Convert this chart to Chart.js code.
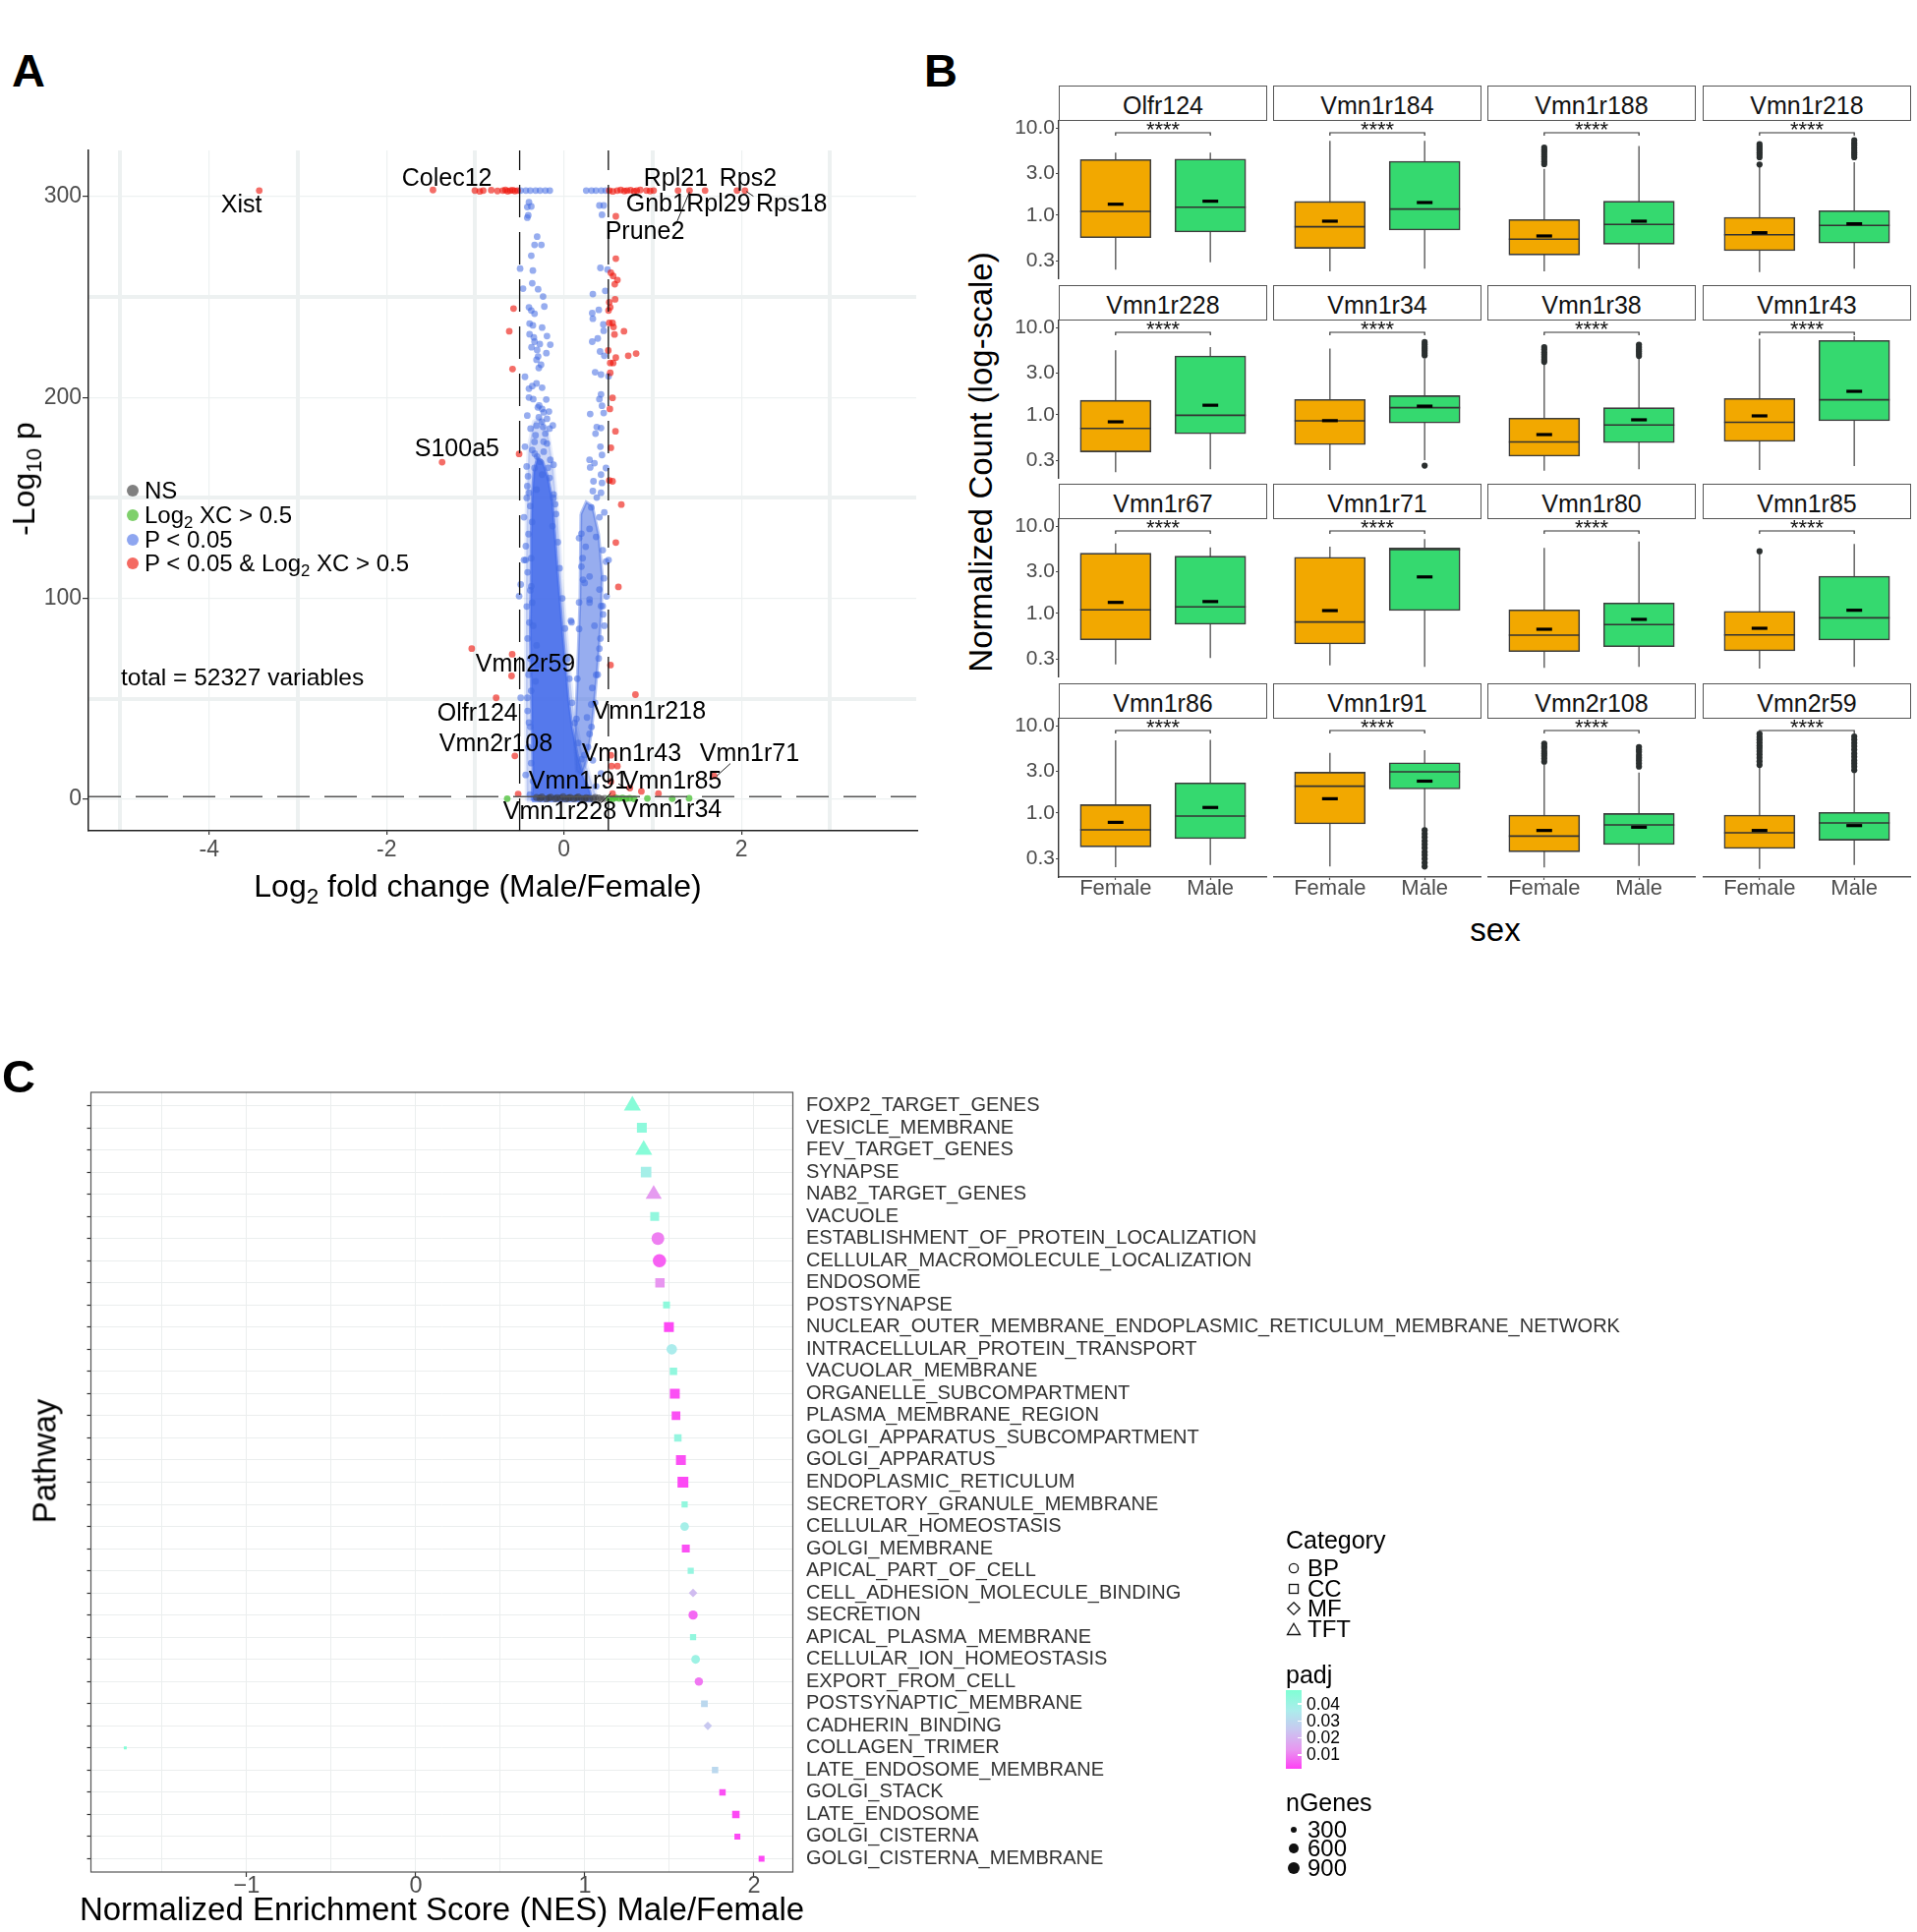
<!DOCTYPE html>
<html>
<head>
<meta charset="utf-8">
<title>Sex differences in vomeronasal gene expression</title>
<script src="https://cdn.jsdelivr.net/npm/chart.js@4.4.1/dist/chart.umd.min.js"></script>
<style>
  body { margin: 0; background: #fff; }
  #page { position: relative; width: 1950px; height: 1965px; overflow: hidden; background: #fff;
          font-family: "Liberation Sans", Arial, Helvetica, sans-serif; }
  #page canvas { position: absolute; }
  .txt { position: absolute; white-space: nowrap; line-height: 1; color: #000; }
  .strip { position: absolute; box-sizing: border-box; border: 1.5px solid #555; background: #fff;
           font-size: 25px; text-align: center; line-height: 39px; color: #111; }
  .sub { font-size: 70%; position: relative; top: 0.3em; }
  .sw { position: absolute; }
</style>
</head>
<body>
<div id="page">
  <canvas id="volcano" width="922" height="742" style="left:20px;top:143px"></canvas>
  <canvas id="nes" width="1720" height="864" style="left:0px;top:1101px"></canvas>
</div>
<script>
// ---------- A: volcano plot ----------
// NS (grey), Log2 FC only (green), P only (blue), P & Log2 FC (red)
const nsX = [-0.31, -0.27, -0.25, -0.2, -0.17, -0.15, -0.1, -0.08, -0.04, -0.01, 0.02, 0.05, 0.07, 0.11, 0.14, 0.16, 0.2, 0.23, 0.25, 0.29, 0.33, 0.35, 0.39, 0.42, 0.46];
const nsY = [0.9, 0.4, 1.1, 0.2, 0.7, 1.0, 0.3, 0.8, 0.5, 1.2, 0.1, 0.6, 0.9, 0.3, 0.7, 1.1, 0.4, 0.2, 0.8, 0.5, 0.3, 0.9, 0.6, 0.2, 0.4];

const fcX = [-0.64, 0.51, 0.55, 0.58, 0.62, 0.66, 0.7, 0.74, 0.79, 0.94, 1.22, 1.41];
const fcY = [0.3, 0.5, 0.2, 0.8, 0.4, 0.6, 0.3, 0.5, 0.2, 0.4, 0.3, 0.5];

const pX = [-0.49, -0.43, -0.38, -0.32, -0.27, -0.21, -0.16, 0.25, 0.31, 0.36, 0.42, 0.47,
  -0.395, -0.369, -0.414, -0.403, -0.414, -0.303, -0.332, -0.255, -0.369, -0.495, -0.351, -0.358, -0.462, -0.292,
  -0.236, -0.222, -0.395, -0.369, -0.332, -0.388, -0.351, -0.247, -0.388, -0.34, -0.192, -0.332, -0.273, -0.155,
  -0.366, -0.303, -0.199, -0.292, -0.31, -0.259, -0.284, -0.44, -0.31, -0.358, -0.395, -0.247, -0.395, -0.347,
  -0.295, -0.247, -0.229, -0.414, -0.284, -0.192, -0.126, -0.236, -0.377, -0.163, -0.321, -0.211, -0.332, -0.192,
  -0.44, -0.358, -0.229, -0.303, -0.155, -0.421, -0.332, -0.118, -0.247, -0.406, -0.163, -0.414, -0.31, -0.118,
  -0.395, -0.451, -0.1, -0.432, -0.488, -0.506,
  0.399, 0.447, 0.428, 0.41, 0.491, 0.325, 0.465, 0.318, 0.392, 0.325, 0.443, 0.447, 0.38, 0.318, 0.406, 0.454,
  0.351, 0.417, 0.502, 0.417, 0.399, 0.428, 0.295, 0.447, 0.369, 0.417, 0.355, 0.41, 0.428, 0.288, 0.343, 0.295,
  0.473, 0.417, 0.332, 0.428, 0.325, 0.417, 0.369, 0.307, 0.454, 0.399, 0.288, 0.196, 0.362, 0.244, 0.436, 0.196,
  0.473, 0.288, 0.233, 0.399, 0.288, 0.436,
  0.085, 0.17, 0.214, 0.288, 0.343, 0.399, 0.391, 0.362, 0.318, 0.307, 0.259, 0.288, 0.325, 0.417, 0.362, 0.502,
  0.48, 0.454, 0.417, -0.451, -0.369, -0.358, -0.347, -0.31, -0.303, -0.321, -0.488, -0.414, -0.395, -0.432, -0.384, 0.078,
  -0.42, -0.38, -0.36, -0.4, -0.43, -0.37, -0.41, -0.38, -0.42, -0.39, -0.41, -0.38, -0.4, -0.37, -0.41, -0.38, -0.4, -0.37, -0.35,
  -0.12, -0.09, -0.13, -0.07, -0.05, -0.02, 0.01, 0.04, 0.06, 0.09, 0.12, 0.16, 0.2,
  -0.28, -0.2, -0.25, -0.31, -0.17, -0.23, -0.33, -0.27, -0.18,
  0.17, 0.21, 0.45, 0.44, 0.41, 0.38, 0.35, 0.31, 0.27, 0.23, 0.14, 0.15, 0.17];
const pY = [303, 303, 303, 303, 303, 303, 303, 303, 303, 303, 303, 303,
  297.2, 295.1, 294.8, 290.7, 289.5, 280.1, 276.0, 276.0, 270.6, 264.2, 263.2, 256.9, 254.2, 253.9,
  250.3, 245.3, 244.9, 243.3, 241.7, 236.8, 235.9, 234.8, 231.5, 229.9, 230.6, 227.8, 226.6, 226.3,
  225.0, 223.7, 222.1, 220.4, 218.8, 216.3, 214.7, 210.3, 207.0, 205.7, 204.4, 204.9, 200.0, 199.2,
  195.1, 194.3, 192.6, 191.0, 190.2, 189.4, 186.1, 185.3, 184.5, 184.5, 181.2, 182.0, 177.9, 177.1,
  175.5, 173.9, 173.0, 170.6, 169.0, 165.7, 164.9, 166.5, 161.6, 160.8, 160.0, 155.9, 154.2, 151.8,
  152.6, 140.4, 146.9, 119.1, 106.9, 101.1,
  295.6, 295.6, 291.0, 264.5, 263.7, 251.5, 253.1, 242.0, 243.6, 239.2, 236.4, 233.2, 229.4, 227.8, 222.9, 220.8,
  212.6, 211.4, 210.6, 201.6, 199.2, 195.9, 191.8, 192.3, 185.3, 184.8, 182.0, 175.5, 171.4, 169.0, 167.3, 165.2,
  164.9, 161.6, 158.3, 157.5, 153.4, 152.6, 150.2, 145.3, 142.8, 140.4, 134.6, 132.2, 130.6, 125.7, 124.0, 115.8,
  118.3, 110.9, 107.7, 104.4, 97.9, 96.2,
  88.1, 84.8, 109.3, 99.5, 86.4, 75.0, 70.1, 61.9, 55.4, 47.2, 40.7, 32.5, 19.4, 12.9, 6.4, 119.1,
  101.0, 86.4, 96.2, 119.1, 106.0, 97.9, 86.4, 76.6, 66.8, 58.7, 50.5, 50.5, 38.2, 12.1, 2.3, 88.9,
  150, 146, 138, 132, 126, 120, 113, 104, 96, 88, 80, 70, 62, 54, 44, 36, 26, 18, 9,
  150, 142, 136, 128, 115, 100, 85, 70, 60, 48, 38, 28, 20,
  196, 199, 188, 186, 193, 178, 172, 168, 165,
  130, 120, 110, 92, 80, 62, 48, 36, 26, 22, 40, 60, 98];

const bothX = [-3.435, -1.477, -1.005, -0.95, -0.91, -0.82, -0.75, -0.69, -0.66, -0.635, -0.606, -0.58, -0.554, -0.524,
  0.51, 0.55, 0.6, 0.64, 0.68, 0.71, 0.75, 0.79, 0.82, 0.86, 0.93, 0.97, 1.01, 1.285, 1.415, 1.59, 1.95, 2.04,
  0.584, 0.584, 0.528, 0.554, 0.602, 0.572, 0.576, 0.51, 0.521, 0.502, 0.51, 0.547, 0.558, 0.676, 0.569, 0.499,
  0.724, 0.813, 0.584, 0.554, 0.521, 0.521, 0.547, 0.517, 0.58, 0.528, 0.51, 0.547, 0.646, 0.584, 0.613, 0.524,
  0.805, 0.528, 0.602, 0.536, 0.742, 0.872, 1.064, 0.547, 0.528, 1.69,
  -0.569, -0.617, -0.58, -0.506, -1.374, -1.04, -0.584, -0.591, -0.765, -0.554, -0.517];
const bothY = [303, 303.3, 303, 302.6, 303, 303.2, 302.8, 303, 303.3, 302.7, 303, 303.2, 302.8, 303,
  303, 302.6, 303, 303.3, 302.8, 303, 303.2, 302.7, 303, 303.3, 303, 302.8, 303, 303, 303, 303, 303, 303,
  290.2, 269.1, 262.1, 260.5, 258.5, 256.4, 248.9, 247.4, 244.9, 243.3, 237.1, 237.1, 235.1, 233.0, 231.4, 223.4,
  220.8, 221.9, 219.9, 217.2, 217.2, 212.3, 199.8, 194.3, 183.2, 175.0, 158.7, 158.3, 146.7, 127.8, 105.7, 66.8,
  52.1, 21.9, 16.5, 16.5, 5.6, 3.9, 2.8, 2.8, 8.8, 11.6,
  244.3, 233.0, 214.2, 171.9, 167.8, 75.0, 72.2, 61.4, 50.5, 21.6, 2.6];

// outlines of the over-plotted blue region: saturated core, its fringe, and the right-hand arm
const coreX = [-0.36, -0.35, -0.36, -0.37, -0.38, -0.37, -0.37, -0.36, -0.34, -0.30, -0.24, -0.18, -0.13, -0.10, -0.07,
  -0.04, -0.01, 0.02, 0.05, 0.09, 0.15, 0.22, 0.29, 0.31, 0.31, -0.36];
const coreY = [-0.8, 15, 35, 60, 85, 110, 130, 150, 163, 170, 168, 160, 148, 130, 112,
  96, 80, 65, 50, 36, 22, 11, 4, 0, -0.8, -0.8];
const haloX = [-0.42, -0.43, -0.43, -0.42, -0.40, -0.34, -0.26, -0.18, -0.12, -0.07, -0.03, 0.02, 0.07, 0.12, 0.2, 0.3, 0.36, 0.36, -0.42];
const haloY = [-0.8, 40, 100, 150, 175, 188, 190, 182, 165, 140, 110, 85, 60, 40, 24, 10, 2, -0.8, -0.8];
const armX = [0.19, 0.25, 0.32, 0.39, 0.43, 0.42, 0.39, 0.35, 0.31, 0.26, 0.2, 0.14, 0.12, 0.15, 0.18, 0.19];
const armY = [142, 148, 146, 132, 112, 92, 72, 52, 34, 20, 12, 14, 28, 60, 100, 142];

const fcCutoff = 0.5;
const pCutoff = 1.3;

const geneLabels = ['Xist', 'Colec12', 'Rpl21', 'Rps2', 'Gnb1', 'Rpl29', 'Rps18', 'Prune2', 'S100a5', 'Vmn2r59',
  'Olfr124', 'Vmn2r108', 'Vmn1r218', 'Vmn1r43', 'Vmn1r71', 'Vmn1r91', 'Vmn1r85', 'Vmn1r228', 'Vmn1r34'];
const geneLabelX = [-3.867, -1.828, 0.898, 1.751, 0.698, 1.38, 2.164, 0.465, -1.684, -0.997,
  -1.429, -1.407, 0.321, 0.199, 1.529, -0.399, 0.654, -0.687, 0.654];
const geneLabelY = [292.2, 305.4, 305.4, 305.4, 292.6, 292.6, 292.6, 278.9, 170.6, 63.7,
  39.2, 24.0, 40.2, 19.1, 19.1, 5.4, 5.4, -9.8, -8.8];
const connectX = [1.26, 1.415, 1.415, 2.135, 2.054, 2.054, 1.876, 1.721, 1.721, 0.613, 0.731, 0.731, 0.417, 0.528];
const connectY = [286.1, 302.4, null, 300.2, 302.6, null, 17.8, 11.6, null, 7.7, 4.7, null, -1.8, 3.1];

// ---------- B: box plots ----------
const geneNames = ['Olfr124', 'Vmn1r184', 'Vmn1r188', 'Vmn1r218', 'Vmn1r228', 'Vmn1r34', 'Vmn1r38', 'Vmn1r43',
  'Vmn1r67', 'Vmn1r71', 'Vmn1r80', 'Vmn1r85', 'Vmn1r86', 'Vmn1r91', 'Vmn2r108', 'Vmn2r59'];
const sexes = ['Female', 'Male'];
// [lower whisker, Q1, median, Q3, upper whisker, mean]
const femaleStats = [
  [0.239, 0.556, 1.11, 4.34, 5.2, 1.34], [0.229, 0.419, 0.74, 1.44, 7.1, 0.857],
  [0.229, 0.352, 0.533, 0.894, 3.4, 0.581], [0.225, 0.394, 0.60, 0.95, 3.62, 0.633],
  [0.221, 0.378, 0.70, 1.47, 5.47, 0.834], [0.235, 0.457, 0.857, 1.50, 5.72, 0.86],
  [0.231, 0.337, 0.49, 0.918, 3.88, 0.596], [0.235, 0.497, 0.822, 1.54, 7.41, 0.975],
  [0.262, 0.50, 1.10, 4.89, 6.3, 1.34], [0.256, 0.449, 0.80, 4.4, 5.81, 1.08],
  [0.239, 0.367, 0.566, 1.10, 5.61, 0.661], [0.235, 0.374, 0.57, 1.06, 4.81, 0.678],
  [0.241, 0.411, 0.644, 1.25, 6.78, 0.784], [0.245, 0.752, 2.03, 2.93, 4.89, 1.46],
  [0.239, 0.361, 0.546, 0.95, 3.6, 0.633], [0.231, 0.394, 0.596, 0.95, 3.4, 0.633]];
const maleStats = [
  [0.291, 0.644, 1.24, 4.4, 5.2, 1.45], [0.245, 0.678, 1.18, 4.15, 7.1, 1.40],
  [0.245, 0.468, 0.786, 1.45, 6.2, 0.857], [0.245, 0.481, 0.766, 1.13, 4.04, 0.80],
  [0.239, 0.607, 0.99, 4.72, 5.96, 1.29], [0.304, 0.807, 1.21, 1.66, 4.42, 1.26],
  [0.239, 0.481, 0.766, 1.21, 4.6, 0.879], [0.26, 0.857, 1.49, 7.1, 7.9, 1.86],
  [0.31, 0.752, 1.19, 4.52, 5.7, 1.37], [0.245, 1.08, 5.37, 5.61, 7.08, 2.62],
  [0.245, 0.418, 0.746, 1.32, 6.66, 0.857], [0.245, 0.498, 0.894, 2.67, 6.23, 1.09],
  [0.256, 0.51, 0.925, 2.21, 6.89, 1.16], [0.671, 1.89, 2.96, 3.77, 5.24, 2.32],
  [0.249, 0.437, 0.733, 0.99, 2.91, 0.69], [0.256, 0.489, 0.772, 1.02, 2.9, 0.72]];
const femaleOutliers = [[], [], [3.84, 4.1, 4.4, 4.7, 5.0, 5.3, 5.6, 5.96], [3.81, 4.6, 4.9, 5.2, 5.5, 5.8, 6.1, 6.5],
  [], [], [4.04, 4.3, 4.6, 4.9, 5.2, 5.6, 5.96], [], [], [], [], [5.15], [], [],
  [3.87, 4.2, 4.5, 4.8, 5.1, 5.5, 5.8, 6.22], [3.55, 3.9, 4.3, 4.7, 5.1, 5.5, 5.9, 6.4, 6.9, 7.4, 8.05]];
const maleOutliers = [[], [], [], [4.6, 4.9, 5.2, 5.5, 5.9, 6.3, 6.7, 7.2], [], [4.8, 5.1, 5.4, 5.7, 6.0, 6.4, 6.8, 0.263],
  [4.72, 5.0, 5.3, 5.6, 5.96, 6.34], [], [], [], [], [], [],
  [0.245, 0.27, 0.3, 0.33, 0.36, 0.4, 0.44, 0.48, 0.53, 0.58, 0.64],
  [3.4, 3.7, 4.0, 4.3, 4.6, 5.0, 5.3, 5.7], [3.1, 3.4, 3.7, 4.0, 4.4, 4.8, 5.3, 5.8, 6.3, 6.9, 7.52]];
const logTicks = [0.3, 1, 3, 10];

// ---------- C: enrichment dot plot ----------
const pathwayNames = ['FOXP2_TARGET_GENES', 'VESICLE_MEMBRANE', 'FEV_TARGET_GENES', 'SYNAPSE', 'NAB2_TARGET_GENES',
  'VACUOLE', 'ESTABLISHMENT_OF_PROTEIN_LOCALIZATION', 'CELLULAR_MACROMOLECULE_LOCALIZATION', 'ENDOSOME', 'POSTSYNAPSE',
  'NUCLEAR_OUTER_MEMBRANE_ENDOPLASMIC_RETICULUM_MEMBRANE_NETWORK', 'INTRACELLULAR_PROTEIN_TRANSPORT', 'VACUOLAR_MEMBRANE',
  'ORGANELLE_SUBCOMPARTMENT', 'PLASMA_MEMBRANE_REGION', 'GOLGI_APPARATUS_SUBCOMPARTMENT', 'GOLGI_APPARATUS',
  'ENDOPLASMIC_RETICULUM', 'SECRETORY_GRANULE_MEMBRANE', 'CELLULAR_HOMEOSTASIS', 'GOLGI_MEMBRANE', 'APICAL_PART_OF_CELL',
  'CELL_ADHESION_MOLECULE_BINDING', 'SECRETION', 'APICAL_PLASMA_MEMBRANE', 'CELLULAR_ION_HOMEOSTASIS', 'EXPORT_FROM_CELL',
  'POSTSYNAPTIC_MEMBRANE', 'CADHERIN_BINDING', 'COLLAGEN_TRIMER', 'LATE_ENDOSOME_MEMBRANE', 'GOLGI_STACK',
  'LATE_ENDOSOME', 'GOLGI_CISTERNA', 'GOLGI_CISTERNA_MEMBRANE'];
const pathwayNES = [1.281, 1.337, 1.348, 1.362, 1.407, 1.413, 1.432, 1.441, 1.444, 1.483, 1.497, 1.514, 1.524, 1.532,
  1.539, 1.55, 1.568, 1.58, 1.59, 1.59, 1.597, 1.626, 1.64, 1.64, 1.64, 1.655, 1.674, 1.707, 1.727, -1.718, 1.77,
  1.814, 1.893, 1.902, 2.045];
const pathwayPadj = [0.046, 0.044, 0.046, 0.038, 0.014, 0.043, 0.010, 0.006, 0.013, 0.044, 0.003, 0.036, 0.043, 0.004,
  0.004, 0.042, 0.004, 0.003, 0.043, 0.038, 0.004, 0.042, 0.022, 0.007, 0.043, 0.040, 0.009, 0.030, 0.025, 0.047,
  0.030, 0.004, 0.003, 0.003, 0.003];
const pathwayGenes = [1110, 790, 1110, 900, 1000, 640, 1056, 1140, 712, 387, 790, 715, 445, 790, 610, 445, 790, 955,
  310, 484, 505, 310, 860, 552, 310, 484, 450, 365, 840, 70, 333, 333, 444, 284, 284];
const pathwayCategory = ['TFT', 'CC', 'TFT', 'CC', 'TFT', 'CC', 'BP', 'BP', 'CC', 'CC', 'CC', 'BP', 'CC', 'CC', 'CC',
  'CC', 'CC', 'CC', 'CC', 'BP', 'CC', 'CC', 'MF', 'BP', 'CC', 'BP', 'BP', 'CC', 'MF', 'CC', 'CC', 'CC', 'CC', 'CC', 'CC'];
const categoryNames = ['BP', 'CC', 'MF', 'TFT'];
const padjBreaks = [0.04, 0.03, 0.02, 0.01];
const geneBreaks = [300, 600, 900];

// ---------------------------------------------------------------
const FONT = '"Liberation Sans", Arial, Helvetica, sans-serif';
Chart.defaults.font.family = FONT;
Chart.defaults.responsive = false;
Chart.defaults.animation = false;
Chart.defaults.layout.autoPadding = false;
Chart.defaults.plugins.legend.display = false;
Chart.defaults.plugins.tooltip.enabled = false;

const page = document.getElementById('page');
const pts = (xs, ys) => xs.map((x, i) => ({ x: x, y: ys[i] }));
// fixed axis sizes, and no extra room reserved for the end labels
const fixH = h => s => { s.height = h; s.paddingLeft = 0; s.paddingRight = 0; };
const fixW = w => s => { s.width = w; s.paddingTop = 0; s.paddingBottom = 0; };

function addText(html, x, y, size, opts = {}) {
  const d = document.createElement('div');
  d.className = 'txt';
  d.innerHTML = html;
  d.style.fontSize = size + 'px';
  if (opts.bold) d.style.fontWeight = 'bold';
  if (opts.color) d.style.color = opts.color;
  d.style.left = x + 'px';
  if (opts.rotate) {
    d.style.top = y + 'px';
    d.style.transform = 'translate(-50%,-50%) rotate(-90deg)';
  } else {
    d.style.top = (y - 0.8465 * size) + 'px';   // y is the baseline
    if (opts.center) d.style.transform = 'translateX(-50%)';
  }
  page.appendChild(d);
  return d;
}

// ---------- panel A ----------
const vx = { min: -5.36, max: 3.97 }, vy = { min: -15.7, max: 323 };

const geneTextPlugin = {
  id: 'geneText',
  afterDatasetsDraw(chart) {
    const { ctx, scales: { x, y } } = chart;
    ctx.save();
    ctx.font = '25px ' + FONT;
    ctx.fillStyle = '#000';
    ctx.textBaseline = 'alphabetic';
    geneLabels.forEach((t, i) => ctx.fillText(t, x.getPixelForValue(geneLabelX[i]), y.getPixelForValue(geneLabelY[i])));
    ctx.restore();
  }
};

const blue = 'rgba(65,105,225,';
new Chart(document.getElementById('volcano'), {
  type: 'scatter',
  data: {
    datasets: [
      { type: 'line', data: pts([-fcCutoff, -fcCutoff], [vy.min, vy.max]), borderColor: '#111', borderWidth: 1.3, borderDash: [33, 15], pointRadius: 0, order: 0 },
      { type: 'line', data: pts([fcCutoff, fcCutoff], [vy.min, vy.max]), borderColor: '#111', borderWidth: 1.3, borderDash: [33, 15], pointRadius: 0, order: 0 },
      { type: 'line', data: pts([vx.min, vx.max], [pCutoff, pCutoff]), borderColor: '#555', borderWidth: 1.3, borderDash: [33, 15], pointRadius: 0, order: 0 },
      { type: 'line', data: pts(connectX, connectY), borderColor: '#222', borderWidth: 1, pointRadius: 0, spanGaps: false, order: 0 },
      { data: pts(bothX, bothY), pointRadius: 3.4, pointBackgroundColor: 'rgba(238,20,10,0.62)', pointBorderWidth: 0, order: 1 },
      { data: pts(fcX, fcY), pointRadius: 3.4, pointBackgroundColor: 'rgba(70,190,50,0.75)', pointBorderWidth: 0, order: 2 },
      { data: pts(nsX, nsY), pointRadius: 3.6, pointBackgroundColor: 'rgba(60,60,60,0.55)', pointBorderWidth: 0, order: 3 },
      { data: pts(pX, pY), pointRadius: 3.4, pointBackgroundColor: blue + '0.55)', pointBorderWidth: 0, order: 4 },
      { type: 'line', data: pts(armX, armY), fill: 'shape', backgroundColor: blue + '0.55)', borderColor: blue + '0.4)', borderWidth: 3, pointRadius: 0, order: 5 },
      { type: 'line', data: pts(coreX, coreY), fill: 'shape', backgroundColor: 'rgba(68,108,235,0.88)', borderColor: 'rgba(68,108,235,0.6)', borderWidth: 3, pointRadius: 0, order: 6 },
      { type: 'line', data: pts(haloX, haloY), fill: 'shape', backgroundColor: blue + '0.26)', borderColor: blue + '0.12)', borderWidth: 4, pointRadius: 0, order: 7 }
    ]
  },
  options: {
    layout: { padding: { top: 10, right: 10 } },
    scales: {
      x: {
        type: 'linear', min: vx.min, max: vx.max,
        afterBuildTicks: s => { s.ticks = [-5, -4, -3, -2, -1, 0, 1, 2, 3].map(v => ({ value: v })); },
        afterFit: fixH(40),
        ticks: { callback: v => (v % 2 === 0 ? String(v) : ''), font: { size: 23 }, color: '#4d4d4d', padding: 2, maxRotation: 0, autoSkip: false },
        grid: {
          color: '#edf1f1', lineWidth: c => (Math.abs(c.tick.value % 2) === 1 ? 4 : 1.2),
          tickColor: c => (c.tick.value % 2 === 0 ? '#333' : 'rgba(0,0,0,0)'), tickLength: 4, tickWidth: 1.2
        },
        border: { display: true, color: '#222', width: 1.5 }
      },
      y: {
        type: 'linear', min: vy.min, max: vy.max,
        afterBuildTicks: s => { s.ticks = [0, 50, 100, 150, 200, 250, 300].map(v => ({ value: v })); },
        afterFit: fixW(70),
        ticks: { callback: v => (v % 100 === 0 ? String(v) : ''), font: { size: 23 }, color: '#4d4d4d', padding: 1, autoSkip: false },
        grid: {
          color: '#edf1f1', lineWidth: c => (c.tick.value % 100 === 50 ? 4 : 1.2),
          tickColor: c => (c.tick.value % 100 === 0 ? '#333' : 'rgba(0,0,0,0)'), tickLength: 6, tickWidth: 1.2
        },
        border: { display: true, color: '#222', width: 1.5 }
      }
    }
  },
  plugins: [geneTextPlugin]
});

addText('A', 12, 88, 47, { bold: true });
addText('Log<span class="sub">2</span> fold change (Male/Female)', 486, 912, 32, { center: true });
addText('-Log<span class="sub">10</span> p', 24, 487, 32, { rotate: true });
addText('total = 52327 variables', 123, 698, 24.5);

const volcanoLegend = [
  ['NS', '#808080'],
  ['Log<span class="sub">2</span> XC &gt; 0.5', '#7fd06c'],
  ['P &lt; 0.05', '#8ea6f0'],
  ['P &lt; 0.05 &amp; Log<span class="sub">2</span> XC &gt; 0.5', '#f46a62']
];
[499, 524, 549, 573].forEach((cy, i) => {
  const dot = document.createElement('div');
  dot.className = 'sw';
  Object.assign(dot.style, { left: '129px', top: (cy - 6) + 'px', width: '12px', height: '12px', borderRadius: '50%', background: volcanoLegend[i][1] });
  page.appendChild(dot);
  addText(volcanoLegend[i][0], 147, cy + 8.6, 24);
});

// ---------- panel B ----------
const colLeft = [1077, 1295, 1513, 1732];
const rowTop = [87, 290, 492, 695];
const stripH = 36, cellW = 212, cellH = 161, yAxisW = 60, xAxisH = 30, padTop = 6;
const femaleColor = '#F2A800', maleColor = '#35D96F';

const bracketPlugin = {
  id: 'bracket',
  afterDatasetsDraw(chart) {
    const { ctx, chartArea, scales } = chart;
    const x1 = scales.x.getPixelForValue(1), x2 = scales.x.getPixelForValue(2);
    const y = chartArea.top + 12;
    ctx.save();
    ctx.strokeStyle = '#333';
    ctx.lineWidth = 1.2;
    ctx.beginPath();
    ctx.moveTo(x1, y + 3); ctx.lineTo(x1, y); ctx.lineTo(x2, y); ctx.lineTo(x2, y + 3);
    ctx.stroke();
    ctx.fillStyle = '#111';
    ctx.font = '22px ' + FONT;
    ctx.textAlign = 'center';
    ctx.textBaseline = 'alphabetic';
    ctx.fillText('****', (x1 + x2) / 2, chartArea.top + 16);
    ctx.restore();
  }
};

function makeBoxChart(cv, g, showY, showX) {
  const f = femaleStats[g], m = maleStats[g];
  const outl = femaleOutliers[g].map(v => ({ x: 1, y: v })).concat(maleOutliers[g].map(v => ({ x: 2, y: v })));
  return new Chart(cv, {
    type: 'bar',
    data: {
      datasets: [
        { type: 'line', data: [{ x: 1, y: f[0] }, { x: 1, y: f[4] }, { x: 1.5, y: null }, { x: 2, y: m[0] }, { x: 2, y: m[4] }],
          borderColor: '#5a5a5a', borderWidth: 1.4, pointRadius: 0, spanGaps: false, order: 4 },
        { type: 'bar', data: [{ x: 1, y: [f[1], f[3]] }, { x: 2, y: [m[1], m[3]] }],
          backgroundColor: [femaleColor, maleColor], borderColor: '#3d3d3d', borderWidth: 1.6,
          borderSkipped: false, barThickness: 72, grouped: false, order: 3 },
        { type: 'scatter', data: outl, pointRadius: 3.1, pointBackgroundColor: '#2a2f2f', pointBorderWidth: 0, order: 2 },
        { type: 'scatter', data: [{ x: 1, y: f[2] }, { x: 2, y: m[2] }], pointStyle: 'line', pointRadius: 36,
          pointBorderColor: '#333', pointBorderWidth: 1.6, order: 1 },
        { type: 'scatter', data: [{ x: 1, y: f[5] }, { x: 2, y: m[5] }], pointStyle: 'line', pointRadius: 8,
          pointBorderColor: '#000', pointBorderWidth: 3.2, order: 0 }
      ]
    },
    options: {
      layout: { padding: { top: padTop } },
      scales: {
        x: {
          type: 'linear', min: 0.4, max: 2.6, offset: false, display: showX,
          afterBuildTicks: s => { s.ticks = [{ value: 1 }, { value: 2 }]; },
          afterFit: fixH(showX ? xAxisH : 0),
          ticks: { callback: v => sexes[v - 1], font: { size: 22, lineHeight: 1 }, color: '#4d4d4d', padding: -2, maxRotation: 0, autoSkip: false },
          grid: { drawOnChartArea: false, offset: false, tickLength: 3, tickColor: '#555', tickWidth: 1.2 },
          border: { display: true, color: '#555', width: 1.6 }
        },
        y: {
          type: 'logarithmic', min: 0.186, max: 11.99, display: showY,
          afterBuildTicks: s => { s.ticks = logTicks.map(v => ({ value: v })); },
          afterFit: fixW(showY ? yAxisW : 0),
          ticks: { callback: v => Number(v).toFixed(1), font: { size: 21 }, color: '#4d4d4d', padding: 1, autoSkip: false },
          grid: { drawOnChartArea: false, tickLength: 3, tickColor: '#444', tickWidth: 1.2 },
          border: { display: true, color: '#333', width: 1.4 }
        }
      }
    },
    plugins: [bracketPlugin]
  });
}

geneNames.forEach((g, i) => {
  const r = Math.floor(i / 4), c = i % 4;
  const showY = c === 0, showX = r === 3;
  const cv = document.createElement('canvas');
  cv.width = cellW + (showY ? yAxisW : 0);
  cv.height = cellH + padTop + (showX ? xAxisH : 0);
  cv.style.left = (colLeft[c] - (showY ? yAxisW : 0)) + 'px';
  cv.style.top = (rowTop[r] + stripH - padTop) + 'px';
  page.appendChild(cv);
  const strip = document.createElement('div');
  strip.className = 'strip';
  Object.assign(strip.style, { left: colLeft[c] + 'px', top: rowTop[r] + 'px', width: cellW + 'px', height: stripH + 'px' });
  strip.textContent = g;
  page.appendChild(strip);
  makeBoxChart(cv, i, showY, showX);
});

addText('B', 940, 88, 47, { bold: true });
addText('Normalized Count (log-scale)', 997, 470, 33, { rotate: true });
addText('sex', 1521, 957, 33, { center: true });

// ---------- panel C ----------
const padjStops = [[0.0019, [255, 64, 245]], [0.013, [232, 150, 240]], [0.025, [200, 200, 240]], [0.036, [172, 236, 236]], [0.0481, [127, 255, 212]]];
function padjColor(p) {
  for (let i = 1; i < padjStops.length; i++) {
    const [p0, c0] = padjStops[i - 1], [p1, c1] = padjStops[i];
    if (p <= p1 || i === padjStops.length - 1) {
      const t = Math.max(0, Math.min(1, (p - p0) / (p1 - p0)));
      return 'rgb(' + c0.map((v, k) => Math.round(v + (c1[k] - v) * t)).join(',') + ')';
    }
  }
}
const shapeMap = { BP: 'circle', CC: 'rect', MF: 'rectRot', TFT: 'triangle' };
const shapeScale = { BP: 1, CC: 1.26, MF: 0.75, TFT: 1.5 };
const rowTicks = s => { s.ticks = pathwayNames.map((_, i) => ({ value: i + 1 })); };

const panelBorder = {
  id: 'panelBorder',
  afterDraw(chart) {
    const { ctx, chartArea: a } = chart;
    ctx.save();
    ctx.strokeStyle = '#555';
    ctx.lineWidth = 1.2;
    ctx.strokeRect(a.left, a.top, a.right - a.left, a.bottom - a.top);
    ctx.restore();
  }
};

new Chart(document.getElementById('nes'), {
  type: 'scatter',
  data: {
    datasets: [{
      data: pathwayNES.map((v, i) => ({ x: v, y: i + 1 })),
      pointStyle: pathwayCategory.map(c => shapeMap[c]),
      pointRadius: pathwayGenes.map((n, i) => 0.2 * Math.sqrt(n) * shapeScale[pathwayCategory[i]]),
      pointBackgroundColor: pathwayPadj.map(padjColor),
      pointBorderWidth: 0
    }]
  },
  options: {
    layout: { padding: { top: 10 } },
    scales: {
      x: {
        type: 'linear', min: -1.921, max: 2.23,
        afterBuildTicks: s => { s.ticks = [-1.5, -1, -0.5, 0, 0.5, 1, 1.5, 2].map(v => ({ value: v })); },
        afterFit: fixH(61),
        ticks: { callback: v => (Number.isInteger(v) ? (v < 0 ? '\u2212' + Math.abs(v) : String(v)) : ''), font: { size: 23.5, lineHeight: 1 }, color: '#4d4d4d', padding: -2, maxRotation: 0, autoSkip: false },
        grid: { color: '#ebeeee', lineWidth: 1, tickLength: 5, tickWidth: 1.2, tickColor: c => (Number.isInteger(c.tick.value) ? '#333' : 'rgba(0,0,0,0)') },
        border: { display: false }
      },
      y: {
        type: 'linear', position: 'left', reverse: true, min: 0.4, max: 35.6,
        afterBuildTicks: rowTicks,
        afterFit: fixW(92.5),
        ticks: { display: false },
        grid: { color: '#ebeeee', lineWidth: 1, tickLength: 4, tickWidth: 1.2, tickColor: '#333' },
        border: { display: false }
      },
      yr: {
        type: 'linear', position: 'right', reverse: true, min: 0.4, max: 35.6,
        afterBuildTicks: rowTicks,
        afterFit: fixW(913.5),
        ticks: { callback: v => pathwayNames[v - 1], font: { size: 20 }, color: '#333', padding: 13.5, autoSkip: false, crossAlign: 'near' },
        grid: { display: false, drawTicks: false, drawOnChartArea: false },
        border: { display: false }
      }
    }
  },
  plugins: [panelBorder]
});

addText('C', 2, 1111, 47, { bold: true });
addText('Pathway', 45, 1486, 33, { rotate: true });
addText('Normalized Enrichment Score (NES) Male/Female', 449.5, 1953, 33, { center: true });

// legend: Category
const catSvg = {
  BP: '<circle cx="8" cy="8" r="4.6" fill="none" stroke="#111" stroke-width="1.3"/>',
  CC: '<rect x="3.5" y="3.5" width="9" height="9" fill="none" stroke="#111" stroke-width="1.3"/>',
  MF: '<path d="M8 1.8 L14.2 8 L8 14.2 L1.8 8 Z" fill="none" stroke="#111" stroke-width="1.3"/>',
  TFT: '<path d="M8 2.2 L14.5 13.5 L1.5 13.5 Z" fill="none" stroke="#111" stroke-width="1.3"/>'
};
addText('Category', 1308, 1575, 25);
[1595, 1616, 1636, 1657].forEach((cy, i) => {
  const s = document.createElement('div');
  s.className = 'sw';
  Object.assign(s.style, { left: '1308px', top: (cy - 8) + 'px', width: '16px', height: '16px' });
  s.innerHTML = '<svg width="16" height="16" viewBox="0 0 16 16">' + catSvg[categoryNames[i]] + '</svg>';
  page.appendChild(s);
  addText(categoryNames[i], 1330, cy + 8.6, 24);
});

// legend: padj colour bar
addText('padj', 1308, 1712, 25);
const barTop = 1719, barH = 80, padjTop = 0.0481, padjBottom = 0.0019;
const bar = document.createElement('div');
bar.className = 'sw';
const stopCss = padjStops.slice().reverse().map(([p, c]) =>
  'rgb(' + c.join(',') + ') ' + ((padjTop - p) / (padjTop - padjBottom) * 100).toFixed(1) + '%').join(',');
Object.assign(bar.style, { left: '1308px', top: barTop + 'px', width: '16px', height: barH + 'px', background: 'linear-gradient(to bottom,' + stopCss + ')' });
page.appendChild(bar);
padjBreaks.forEach(p => {
  const cy = barTop + (padjTop - p) / (padjTop - padjBottom) * barH;
  const t = document.createElement('div');
  t.className = 'sw';
  Object.assign(t.style, { left: '1320px', top: (cy - 0.6) + 'px', width: '4px', height: '1.2px', background: '#fff' });
  page.appendChild(t);
  addText(p.toFixed(2), 1329, cy + 6.3, 17.5);
});

// legend: nGenes
addText('nGenes', 1308, 1842, 25);
[1861, 1880, 1900].forEach((cy, i) => {
  const r = 0.2 * Math.sqrt(geneBreaks[i]);
  const dot = document.createElement('div');
  dot.className = 'sw';
  Object.assign(dot.style, { left: (1316 - r) + 'px', top: (cy - r) + 'px', width: 2 * r + 'px', height: 2 * r + 'px', borderRadius: '50%', background: '#111' });
  page.appendChild(dot);
  addText(String(geneBreaks[i]), 1330, cy + 8.6, 24);
});
</script>
</body>
</html>
